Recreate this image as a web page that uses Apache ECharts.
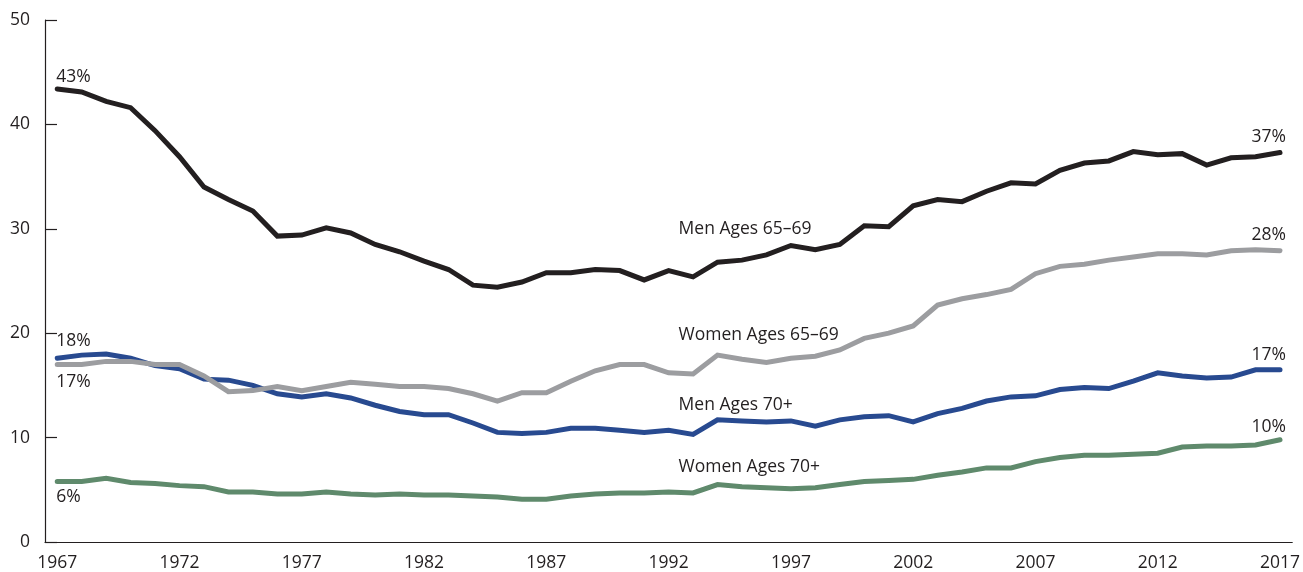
<!DOCTYPE html>
<html>
<head>
<meta charset="utf-8">
<style>html,body{margin:0;padding:0;background:#fff}#c{width:1303px;height:572px}</style>
<script src="https://cdn.jsdelivr.net/npm/echarts@6/dist/echarts.min.js"></script>
</head>
<body>
<div id="c"></div>
<script>
const years = [];
for (let y = 1967; y <= 2017; y++) years.push(String(y));

const men6569 = [43.4,43.1,42.2,41.6,39.4,36.9,34.0,32.8,31.7,29.3,29.4,30.1,29.6,28.5,27.8,26.9,26.1,24.6,24.4,24.9,25.8,25.8,26.1,26.0,25.1,26.0,25.4,26.8,27.0,27.5,28.4,28.0,28.5,30.3,30.2,32.2,32.8,32.6,33.6,34.4,34.3,35.6,36.3,36.5,37.4,37.1,37.2,36.1,36.8,36.9,37.3];
const women6569 = [17.0,17.0,17.3,17.3,17.0,17.0,15.9,14.4,14.5,14.9,14.5,14.9,15.3,15.1,14.9,14.9,14.7,14.2,13.5,14.3,14.3,15.4,16.4,17.0,17.0,16.2,16.1,17.9,17.5,17.2,17.6,17.8,18.4,19.5,20.0,20.7,22.7,23.3,23.7,24.2,25.7,26.4,26.6,27.0,27.3,27.6,27.6,27.5,27.9,28.0,27.9];
const men70 = [17.6,17.9,18.0,17.6,16.9,16.6,15.6,15.5,15.0,14.2,13.9,14.2,13.8,13.1,12.5,12.2,12.2,11.4,10.5,10.4,10.5,10.9,10.9,10.7,10.5,10.7,10.3,11.7,11.6,11.5,11.6,11.1,11.7,12.0,12.1,11.5,12.3,12.8,13.5,13.9,14.0,14.6,14.8,14.7,15.4,16.2,15.9,15.7,15.8,16.5,16.5];
const women70 = [5.8,5.8,6.1,5.7,5.6,5.4,5.3,4.8,4.8,4.6,4.6,4.8,4.6,4.5,4.6,4.5,4.5,4.4,4.3,4.1,4.1,4.4,4.6,4.7,4.7,4.8,4.7,5.5,5.3,5.2,5.1,5.2,5.5,5.8,5.9,6.0,6.4,6.7,7.1,7.1,7.7,8.1,8.3,8.3,8.4,8.5,9.1,9.2,9.2,9.3,9.8];

const seriesNames = ['Men Ages 65\u201369','Women Ages 65\u201369','Men Ages 70+','Women Ages 70+'];
const nameLabelYear = '1992';
const nameLabelValue = [30.0, 19.85, 13.1, 7.2];
const yTicks = [0,10,20,30,40,50];

const FONT = '"Open Sans"';
const FS = 17.5;
const TXT = '#231f20';
const colors = ['#231f20','#9c9da0','#284a90','#5f8a6c'];
const dataSets = [men6569, women6569, men70, women70];

const startLab = [['top',3],['bottom',8],['top',8],['bottom',7]];
const endLab = [['top',7],['top',7],['top',6],['top',4]];

function pct(v){ return Math.round(v) + '%'; }

const series = dataSets.map((d, i) => {
  const n = d.length - 1;
  return {
    name: seriesNames[i],
    type: 'line',
    data: d,
    showSymbol: false,
    symbol: 'none',
    silent: true,
    z: 10 - i,
    lineStyle: { color: colors[i], width: 5, join: 'miter', cap: 'round' },
    itemStyle: { color: colors[i] },
    markPoint: {
      symbol: 'circle',
      symbolSize: 0,
      silent: true,
      animation: false,
      data: [
        { coord: [years[0], d[0]], label: { show: true, formatter: pct(d[0]), position: startLab[i][0], distance: startLab[i][1], align: 'left', offset: [-1, 0] } },
        { coord: [years[n], d[n]], label: { show: true, formatter: pct(d[n]), position: endLab[i][0], distance: endLab[i][1], align: 'right', offset: [6, 0] } },
        { coord: [nameLabelYear, nameLabelValue[i]], label: { show: true, formatter: seriesNames[i], position: 'right', distance: 10 } }
      ],
      label: { color: TXT, fontFamily: FONT, fontSize: FS }
    }
  };
});

const chart = echarts.init(document.getElementById('c'), null, { renderer: 'canvas' });
chart.setOption({
  animation: false,
  backgroundColor: '#fff',
  grid: { left: 45, right: 8, top: 20, bottom: 30, containLabel: false },
  xAxis: {
    type: 'category',
    data: years,
    boundaryGap: true,
    axisLine: { lineStyle: { color: TXT, width: 1.2 } },
    axisTick: { inside: true, length: 12, alignWithLabel: true, interval: 4, lineStyle: { color: TXT, width: 1.2 } },
    axisLabel: { interval: 4, color: TXT, fontFamily: FONT, fontSize: FS, margin: 12 },
    splitLine: { show: false }
  },
  yAxis: {
    type: 'value',
    min: yTicks[0],
    max: yTicks[yTicks.length - 1],
    interval: 10,
    axisLine: { show: true, lineStyle: { color: TXT, width: 1.2 } },
    axisTick: { show: true, inside: true, length: 12, lineStyle: { color: TXT, width: 1.2 } },
    axisLabel: { color: TXT, fontFamily: FONT, fontSize: FS, margin: 15 },
    splitLine: { show: false }
  },
  series: series
});
</script>
</body>
</html>
